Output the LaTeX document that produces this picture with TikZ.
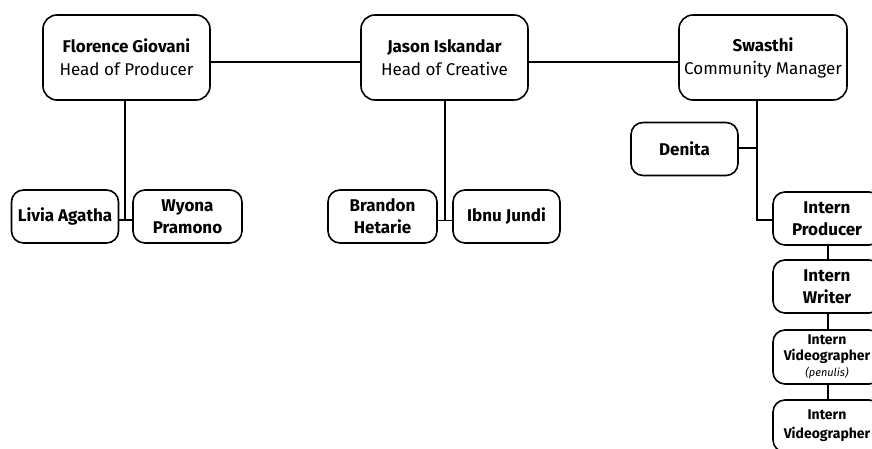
\documentclass[tikz,border=0pt]{standalone}
\usepackage{fontspec}
\setmainfont{Fira Sans}
\begin{document}
\begin{tikzpicture}[x=1pt,y=-1pt,
  box/.style={draw, line width=1.6pt, rounded corners=14pt, align=center, inner sep=0pt, font=\fontsize{17}{23}\selectfont},
  big/.style={box, minimum width=167pt, minimum height=85pt},
  small/.style={box, rounded corners=12pt, minimum width=107pt, minimum height=53pt, font=\bfseries\fontsize{17}{22}\selectfont},
  vid/.style={small, minimum width=108pt, font=\bfseries\fontsize{14}{16}\selectfont},
  link/.style={line width=1.6pt}]
\useasboundingbox (0,0) rectangle (872,448);
\node[big] (flo) at (126.5,57.5) {\textbf{Florence Giovani}\\Head of Producer};
\node[big] (jas) at (444.5,57.5) {\textbf{Jason Iskandar}\\Head of Creative};
\node[big, minimum width=168pt] (swa) at (763,57.5) {\textbf{Swasthi}\\Community Manager};
\node[small] (den) at (684.5,149) {Denita};
\node[small] (liv) at (65,216.5) {Livia Agatha};
\node[small, minimum width=109pt] (wyo) at (187.5,216.5) {Wyona\\Pramono};
\node[small, minimum width=109pt] (bra) at (382.5,216.5) {Brandon\\Hetarie};
\node[small] (ibn) at (506.5,216.5) {Ibnu Jundi};
\node[small, minimum width=108pt] (ipr) at (827,218.5) {Intern\\Producer};
\node[small, minimum width=108pt] (iwr) at (827,286.5) {Intern\\Writer};
\node[vid, minimum height=54pt] (ivp) at (827,357) {Intern\\Videographer\\{\mdseries\itshape\fontsize{11}{13}\selectfont (penulis)}};
\node[vid, minimum height=52pt, font=\bfseries\fontsize{14}{19}\selectfont] (ivd) at (827,426) {Intern\\Videographer};
\coordinate (j1) at (125,220);
\coordinate (j2) at (445,220.5);
\coordinate (j3) at (757,220);
\coordinate (j4) at (757,148);
\draw[link] ([yshift=-4.5pt]flo.east) -- ([yshift=-4.5pt]jas.west);
\draw[link] ([yshift=-4.5pt]jas.east) -- ([yshift=-4.5pt]swa.west);
\draw[link] (flo.south -| j1) -- (j1);
\draw[link] (liv.east |- j1) -- (wyo.west |- j1);
\draw[link] (jas.south -| j2) -- (j2);
\draw[link] (bra.east |- j2) -- (ibn.west |- j2);
\draw[link] (swa.south -| j3) -- (j3) -- (ipr.west |- j3);
\draw[link] (den.east |- j4) -- (j4);
\draw[link] ([xshift=1pt]ipr.south) -- ([xshift=1pt]iwr.north);
\draw[link] ([xshift=1pt]iwr.south) -- ([xshift=1pt]ivp.north);
\draw[link] ([xshift=1pt]ivp.south) -- ([xshift=1pt]ivd.north);
\end{tikzpicture}
\end{document}
